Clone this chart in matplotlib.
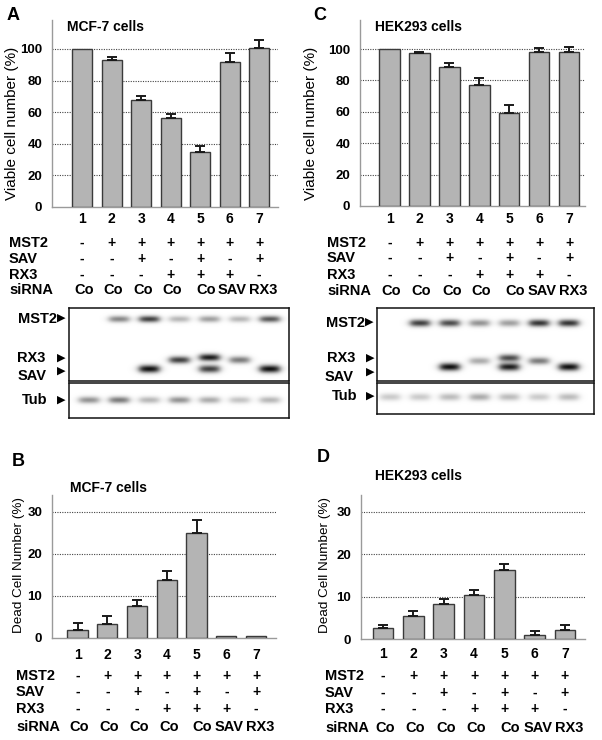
import numpy as np
import matplotlib
matplotlib.use('Agg')
import matplotlib.pyplot as plt
from matplotlib import transforms

plt.rcParams['font.family'] = ['Liberation Sans', 'DejaVu Sans']

# ---------------- data ----------------
lanes = [1, 2, 3, 4, 5, 6, 7]
lane_labels = ['1', '2', '3', '4', '5', '6', '7']
mst2_row = ['-', '+', '+', '+', '+', '+', '+']
sav_row = ['-', '-', '+', '-', '+', '-', '+']
rx3_row = ['-', '-', '-', '+', '+', '+', '-']
sirna_row = ['Co', 'Co', 'Co', 'Co', 'Co', 'SAV', 'RX3']
row_names = ['MST2', 'SAV', 'RX3', 'siRNA']

viable_mcf7 = [100, 93, 68, 56.5, 35, 91.5, 100.5]
viable_mcf7_err = [0, 2.0, 2.4, 2.2, 3.8, 6.2, 4.9]
viable_hek = [100, 97.3, 88.4, 77.4, 59.3, 98.0, 98.3]
viable_hek_err = [0, 1.0, 2.9, 4.0, 5.2, 2.8, 3.1]
dead_mcf7 = [1.9, 3.3, 7.5, 13.9, 25.0, 0.4, 0.4]
dead_mcf7_err = [1.7, 1.9, 1.5, 2.1, 3.0, 0, 0]
dead_hek = [2.6, 5.4, 8.2, 10.5, 16.2, 1.0, 2.2]
dead_hek_err = [0.8, 1.3, 1.2, 1.0, 1.6, 1.0, 1.0]

viable_ticks = [0, 20, 40, 60, 80, 100]
dead_ticks = [0, 10, 20, 30]

# western blot band intensities (relative, per lane)
blotA_mst2 = [0.0, 0.5, 0.8, 0.3, 0.4, 0.3, 0.7]
blotA_rx3 = [0.0, 0.0, 0.0, 0.8, 0.95, 0.55, 0.0]
blotA_sav = [0.0, 0.0, 1.0, 0.0, 0.8, 0.0, 1.0]
blotA_tub = [0.45, 0.55, 0.3, 0.45, 0.35, 0.25, 0.3]
blotC_mst2 = [0.0, 0.8, 0.75, 0.45, 0.4, 0.85, 0.85]
blotC_rx3 = [0.0, 0.0, 0.0, 0.35, 0.75, 0.55, 0.0]
blotC_sav = [0.0, 0.0, 1.0, 0.0, 0.95, 0.0, 1.0]
blotC_tub = [0.22, 0.22, 0.28, 0.35, 0.28, 0.22, 0.28]

# ---------------- figure ----------------
W, H = 602, 740
fig = plt.figure(figsize=(W / 100, H / 100), dpi=100)


def px_axes(l, t, r, b):
    return fig.add_axes([l / W, 1 - b / H, (r - l) / W, (b - t) / H])


def T(x, y, s, **kw):
    return fig.text(x / W, 1 - y / H, s, **kw)


BAR_C = '#b4b4b4'
EDGE_C = '#3a3a3a'
# small horizontal nudges (in lane units) of the siRNA row text
SIRNA_SHIFT = [0.07, 0.07, 0.08, 0.07, 0.2, 0.1, 0.13]


def bar_panel(box, xlim, ylim, vals, errs, ticks, rows_y, rowlabel_x, tick_fs=9.5):
    ax = px_axes(*box)
    ax.bar(lanes, vals, width=0.68, color=BAR_C, edgecolor=EDGE_C, linewidth=1.0, zorder=3)
    ex = [l for l, e in zip(lanes, errs) if e > 0]
    ev = [v for v, e in zip(vals, errs) if e > 0]
    ee = [e for e in errs if e > 0]
    ax.errorbar(ex, ev, yerr=[np.zeros(len(ee)), ee], fmt='none', ecolor='#1a1a1a',
                elinewidth=1.4, capsize=3.5, capthick=1.4, zorder=4)
    ax.set_xlim(*xlim)
    ax.set_ylim(*ylim)
    ax.set_xticks([])
    ax.set_yticks(ticks)
    ax.set_yticklabels([str(t) for t in ticks], fontweight='bold', fontsize=tick_fs)
    ax.tick_params(axis='y', length=0, pad=7)
    for s in ['top', 'right']:
        ax.spines[s].set_visible(False)
    for s in ['left', 'bottom']:
        ax.spines[s].set_color('#9a9a9a')
        ax.spines[s].set_linewidth(1.0)
    for t in ticks[1:]:
        ax.axhline(t, color='#444444', linestyle=(0, (1, 1.2)), linewidth=0.8, zorder=1)
    tr = transforms.blended_transform_factory(ax.transData, fig.transFigure)
    rows = [lane_labels, mst2_row, sav_row, rx3_row, sirna_row]
    for ri, (row, yy) in enumerate(zip(rows, rows_y)):
        for i, (l, s) in enumerate(zip(lanes, row)):
            xx = l + (SIRNA_SHIFT[i] if ri == 4 else 0)
            ax.text(xx, 1 - yy / H, s, transform=tr, ha='center', va='center',
                    fontweight='bold', fontsize=10.5 if ri == 4 else 10, clip_on=False)
    for name, yy in zip(row_names, rows_y[1:]):
        T(rowlabel_x, yy, name, ha='left', va='center', fontweight='bold', fontsize=10.5)
    return ax


def blot(box, xlim, bands):
    ax = px_axes(*box)
    h = box[3] - box[1]
    xs = np.linspace(xlim[0], xlim[1], 600)
    ys = np.linspace(0, h, 4 * h)
    X, Y = np.meshgrid(xs, ys)
    img = np.zeros_like(X)
    for inten, yc, sy in bands:
        for l, a in zip(lanes, inten):
            if a <= 0:
                continue
            yy = yc[l - 1] if isinstance(yc, (list, tuple)) else yc
            hprof = 1 / (1 + np.exp((np.abs(X - l) - 0.32) / 0.07))
            img += a * hprof * np.exp(-0.5 * ((Y - yy) / sy) ** 2)
    img = np.clip(img, 0, 1)
    ax.imshow(img, cmap='gray_r', vmin=0, vmax=1.05, aspect='auto',
              extent=[xlim[0], xlim[1], h, 0], interpolation='bilinear')
    ax.set_xlim(*xlim)
    ax.set_ylim(h, 0)
    ax.set_xticks([])
    ax.set_yticks([])
    for s in ax.spines.values():
        s.set_linewidth(1.1)
        s.set_color('#111111')
    return ax


# ---------- Panel A ----------
bar_panel((52, 20, 278, 207), (-0.02, 7.64), (0, 118.3), viable_mcf7, viable_mcf7_err,
          viable_ticks, [219, 243, 259, 275, 290], 9)
T(7, 15, 'A', fontweight='bold', fontsize=13, ha='left', va='center')
T(67, 27, 'MCF-7 cells', fontweight='bold', fontsize=10, ha='left', va='center')
T(12, 123, 'Viable cell number (%)', rotation=90, ha='center', va='center', fontsize=11)

# ---------- Panel C ----------
bar_panel((360, 20, 585, 206), (0.013, 7.53), (0, 118.5), viable_hek, viable_hek_err,
          viable_ticks, [219, 243, 258, 275, 291], 327)
T(313, 15, 'C', fontweight='bold', fontsize=13, ha='left', va='center')
T(375, 27, 'HEK293 cells', fontweight='bold', fontsize=10, ha='left', va='center')
T(311, 123, 'Viable cell number (%)', rotation=90, ha='center', va='center', fontsize=11)

# ---------- Panel B ----------
bar_panel((52, 495, 276, 638), (0.14, 7.67), (0, 34.0), dead_mcf7, dead_mcf7_err,
          dead_ticks, [655, 676, 692, 709, 727], 16)
T(12, 461, 'B', fontweight='bold', fontsize=13, ha='left', va='center')
T(70, 488, 'MCF-7 cells', fontweight='bold', fontsize=10, ha='left', va='center')
T(19, 565, 'Dead Cell Number (%)', rotation=90, ha='center', va='center', fontsize=9.7)

# ---------- Panel D ----------
bar_panel((361, 495, 585, 639), (0.27, 7.66), (0, 34.0), dead_hek, dead_hek_err,
          dead_ticks, [654, 676, 693, 709, 728], 325)
T(317, 458, 'D', fontweight='bold', fontsize=13, ha='left', va='center')
T(375, 476, 'HEK293 cells', fontweight='bold', fontsize=10, ha='left', va='center')
T(325, 565, 'Dead Cell Number (%)', rotation=90, ha='center', va='center', fontsize=9.7)

# ---------- Blots A ----------
blot((69, 308, 289, 381), (0.34, 7.63),
     [(blotA_mst2, 11, 2.3), (blotA_rx3, [52, 52, 52, 52, 49.5, 52, 52], 2.5),
      (blotA_sav, 61, 2.7)])
blot((69, 383, 289, 418), (0.34, 7.63), [(blotA_tub, 17, 2.4)])
# ---------- Blots C ----------
blot((377, 308, 594, 381), (0.56, 7.84),
     [(blotC_mst2, 15, 2.5), (blotC_rx3, [53, 53, 53, 53, 50, 53, 53], 2.5),
      (blotC_sav, 59, 2.7)])
blot((377, 383, 594, 414), (0.56, 7.84), [(blotC_tub, 14, 2.6)])

TRI = dict(family='DejaVu Sans', fontsize=8, ha='left', va='center')
LAB = dict(fontweight='bold', fontsize=10.5, va='center')
# labels A
T(57, 319, 'MST2', ha='right', **LAB); T(57, 318, '\u25B6', **TRI)
T(45, 358, 'RX3', ha='right', **LAB); T(57, 358, '\u25B6', **TRI)
T(47, 376, 'SAV', ha='right', **LAB); T(57, 371, '\u25B6', **TRI)
T(48, 400, 'Tub', ha='right', **LAB); T(57, 400, '\u25B6', **TRI)
# labels C
T(365, 323, 'MST2', ha='right', **LAB); T(365, 322, '\u25B6', **TRI)
T(355, 358, 'RX3', ha='right', **LAB); T(366, 358, '\u25B6', **TRI)
T(354, 377, 'SAV', ha='right', **LAB); T(366, 372, '\u25B6', **TRI)
T(357, 396, 'Tub', ha='right', **LAB); T(366, 396, '\u25B6', **TRI)

fig.savefig('out.png', dpi=100)
